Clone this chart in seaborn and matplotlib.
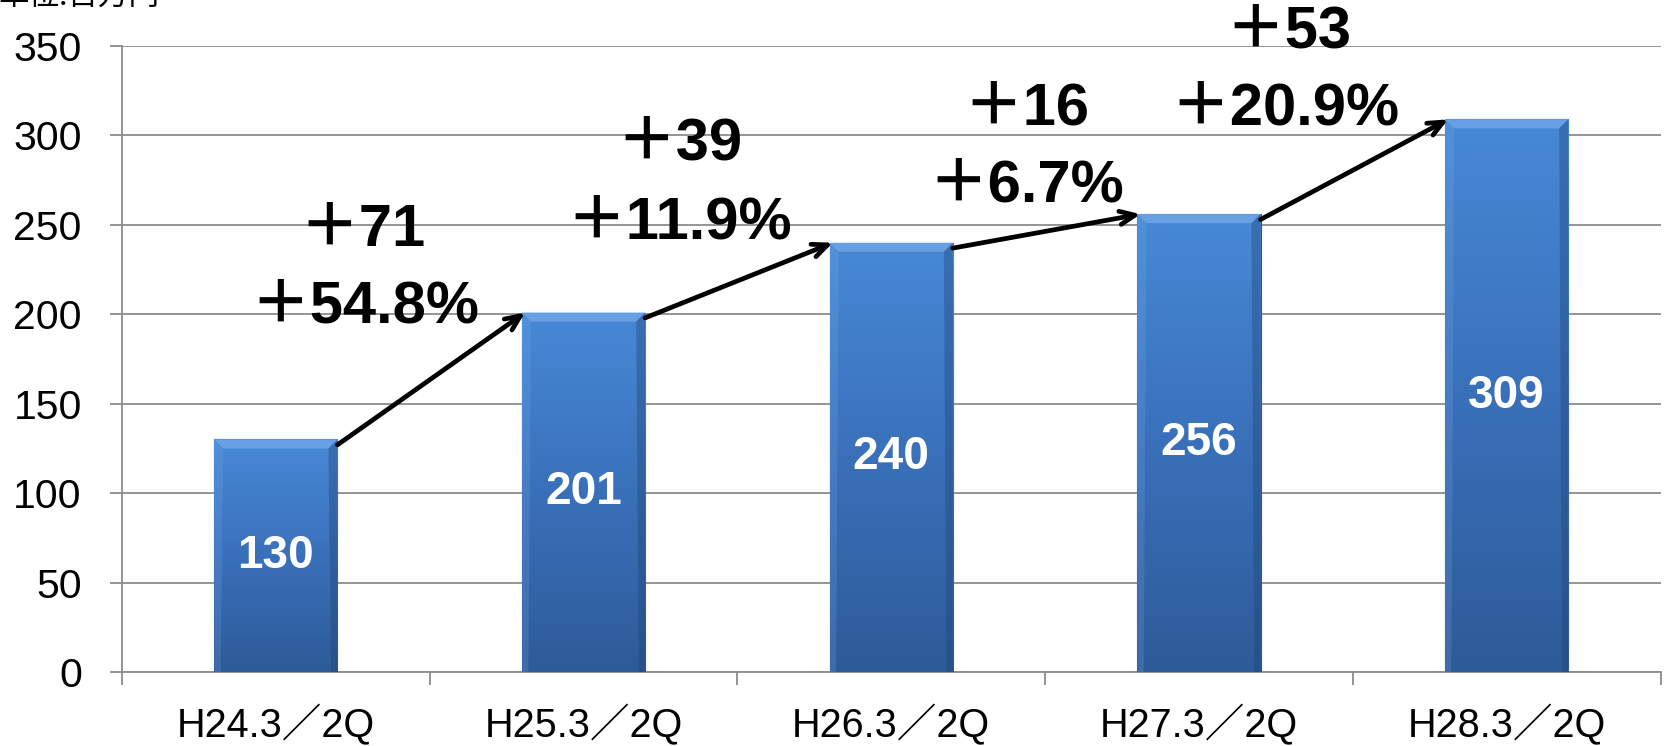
import numpy as np
import pandas as pd
import matplotlib
matplotlib.use("Agg")
import matplotlib.pyplot as plt
from matplotlib.colors import LinearSegmentedColormap
from matplotlib.patches import Polygon
import seaborn as sns

# Period labels and values (unit: million yen)
periods = ["H24.3／2Q", "H25.3／2Q", "H26.3／2Q", "H27.3／2Q", "H28.3／2Q"]
values = [130, 201, 240, 256, 309]

# Year-on-year change labels placed between bars
diff_labels = ["＋71", "＋39", "＋16", "＋53"]
pct_labels = ["＋54.8%", "＋11.9%", "＋6.7%", "＋20.9%"]
diff_pos = [(0.28, 247), (1.31, 295), (2.44, 315), (3.29, 358)]
pct_pos = [(0.29, 204), (1.31, 251), (2.44, 272), (3.28, 315)]

unit_label = "単位:百万円"

sns.set_theme(style="white")
plt.rcParams["font.family"] = ["Liberation Sans", "Noto Sans CJK JP"]

df = pd.DataFrame({"period": periods, "value": values})

fig = plt.figure(figsize=(16.65, 7.46), dpi=100)
ax = fig.add_axes([0.0733, 0.0992, 0.924, 0.8391])

sns.barplot(data=df, x="period", y="value", color="#3e76c0", width=0.4,
            saturation=1, ax=ax, zorder=3)

ax.set_xlim(-0.5, len(periods) - 0.5)
ax.set_ylim(0, 350)

# Bevel sizes in data units (about 9 px)
bx = 9 / (0.924 * 1665) * len(periods)
by = 9 / (0.8391 * 746) * 350

# Vertical gradient fill plus a light bevel on each bar
cmap = LinearSegmentedColormap.from_list("barfill", ["#2d5b98", "#3a70ba", "#4789d6"])
grad = np.linspace(0, 1, 256).reshape(-1, 1)
for patch in ax.patches:
    x0, y0 = patch.get_x(), patch.get_y()
    w, h = patch.get_width(), patch.get_height()
    im = ax.imshow(grad, extent=[x0, x0 + w, y0, y0 + h], origin="lower",
                   cmap=cmap, aspect="auto", zorder=3.5)
    im.set_clip_path(patch)
    patch.set_edgecolor("#2a5590")
    patch.set_linewidth(0.8)
    top = y0 + h
    ax.add_patch(Polygon([(x0, top), (x0 + w, top), (x0 + w - bx, top - by),
                          (x0 + bx, top - by)], closed=True,
                         facecolor="#6ea6e6", edgecolor="none", alpha=0.85, zorder=3.7))
    ax.add_patch(Polygon([(x0 + w, top), (x0 + w, y0), (x0 + w - bx * 0.7, y0),
                          (x0 + w - bx, top - by)], closed=True,
                         facecolor="#1f3f6e", edgecolor="none", alpha=0.35, zorder=3.7))
    ax.add_patch(Polygon([(x0, top), (x0, y0), (x0 + bx * 0.7, y0),
                          (x0 + bx, top - by)], closed=True,
                         facecolor="#7fb2ec", edgecolor="none", alpha=0.2, zorder=3.7))

ax.set_yticks(np.arange(0, 351, 50))
ax.yaxis.grid(True, color="#8c8c8c", linewidth=1.3, zorder=0)
ax.set_axisbelow(True)

for side in ["top", "right"]:
    ax.spines[side].set_visible(False)
for side in ["left", "bottom"]:
    ax.spines[side].set_color("#8c8c8c")
    ax.spines[side].set_linewidth(1.3)

ax.tick_params(axis="y", length=9, width=1.3, color="#8c8c8c", pad=20,
               labelsize=29.5, labelcolor="black", left=True)
ax.set_xticks(np.arange(len(periods)))
ax.set_xticklabels(periods, family=["Liberation Sans", "Noto Sans CJK JP"],
                   fontsize=28.5)
ax.tick_params(axis="x", length=0, pad=23, labelcolor="black")
# Small category separator ticks below the axis
ax.set_xticks(np.arange(len(periods) + 1) - 0.5, minor=True)
ax.tick_params(axis="x", which="minor", length=9, width=1.3, color="#8c8c8c",
               bottom=True)
ax.set_xlabel("")
ax.set_ylabel("")

# Value labels inside bars
for i, v in enumerate(values):
    ax.text(i, v / 2, str(v), ha="center", va="center", color="white",
            fontsize=33, fontweight="bold", family="Liberation Sans", zorder=5)

# Growth arrows from one bar top to the next
for i in range(len(values) - 1):
    ax.annotate("", xy=(i + 0.81, values[i + 1]), xytext=(i + 0.2, values[i] - 3),
                arrowprops=dict(arrowstyle="->,head_length=0.9,head_width=0.4",
                                color="black", lw=3.4,
                                shrinkA=0, shrinkB=0),
                zorder=6)

ann_family = ["Liberation Sans", "Noto Sans CJK JP"]
for (x, y), t in zip(diff_pos, diff_labels):
    ax.text(x, y, t, ha="center", va="center", fontsize=43, fontweight="bold",
            family=ann_family, color="black", zorder=7, clip_on=False)
for (x, y), t in zip(pct_pos, pct_labels):
    ax.text(x, y, t, ha="center", va="center", fontsize=43, fontweight="bold",
            family=ann_family, color="black", zorder=7, clip_on=False)

fig.text(-0.001, 1 - 13 / 746, unit_label, ha="left", va="bottom",
         fontsize=22, family=["Noto Sans CJK JP"], color="black")

fig.savefig("out.png", dpi=100)
